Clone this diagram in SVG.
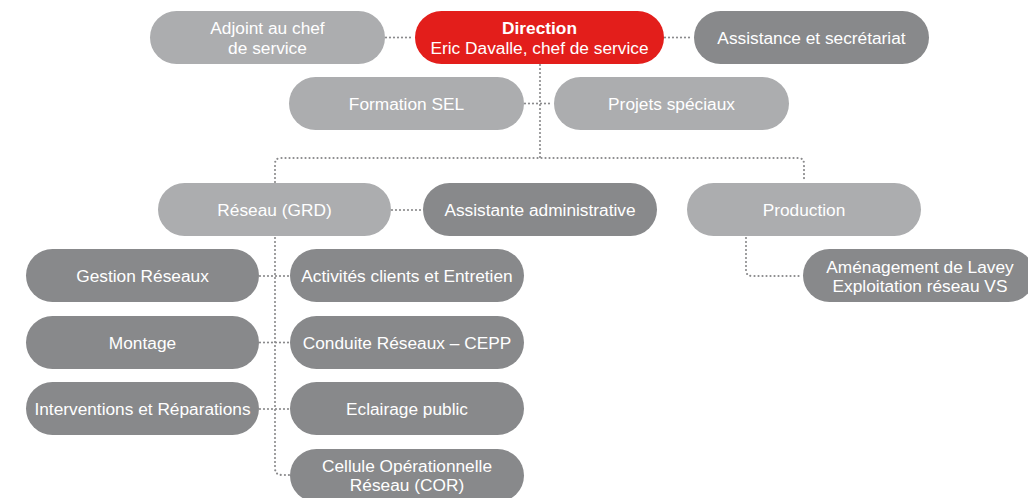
<svg xmlns="http://www.w3.org/2000/svg" width="1028" height="498" viewBox="0 0 1028 498">
<style>
.light{fill:#acadaf}
.dark{fill:#88898b}
.red{fill:#e31e1b}
text{font-family:"Liberation Sans",Arial,sans-serif;font-size:17.3px;fill:#ffffff;text-anchor:middle}
.b{font-weight:bold}
.conn{fill:none;stroke:#8a8a8c;stroke-width:2.2;stroke-linecap:round;stroke-dasharray:0 4}
</style>
<rect width="1028" height="498" fill="#ffffff"/>
<g id="connectors">
<path class="conn" d="M386,37.5 H414"/>
<path class="conn" d="M665,37.5 H693"/>
<path class="conn" d="M525,103.5 H553"/>
<path class="conn" d="M540,65 V158"/>
<path class="conn" d="M275,182 V164 Q275,158 281,158 H798 Q804,158 804,164 V182"/>
<path class="conn" d="M392,210 H422"/>
<path class="conn" d="M275,238 V468 Q275,475 282,475 H289"/>
<path class="conn" d="M260,276 H289"/>
<path class="conn" d="M260,342.5 H289"/>
<path class="conn" d="M260,409 H289"/>
<path class="conn" d="M746,238 V270 Q746,276 752,276 H802"/>
</g>
<g id="adjoint"><rect class="light" x="150" y="11" width="235" height="53" rx="26.5"/><text x="267.5" y="34">Adjoint au chef</text><text x="267.5" y="54">de service</text></g>
<g id="direction"><rect class="red" x="415" y="11" width="249" height="53" rx="26.5"/><text class="b" x="539.5" y="34">Direction</text><text x="539.5" y="54">Eric Davalle, chef de service</text></g>
<g id="assistance"><rect class="dark" x="694" y="11" width="235" height="53" rx="26.5"/><text x="811.5" y="44">Assistance et secrétariat</text></g>
<g id="formation"><rect class="light" x="289" y="77" width="235" height="53" rx="26.5"/><text x="406.5" y="110">Formation SEL</text></g>
<g id="projets"><rect class="light" x="554" y="77" width="235" height="53" rx="26.5"/><text x="671.5" y="110">Projets spéciaux</text></g>
<g id="reseau"><rect class="light" x="158" y="183" width="233" height="53" rx="26.5"/><text x="274.5" y="216">Réseau (GRD)</text></g>
<g id="assistante"><rect class="dark" x="423" y="183" width="234" height="53" rx="26.5"/><text x="540" y="216">Assistante administrative</text></g>
<g id="production"><rect class="light" x="687" y="183" width="234" height="53" rx="26.5"/><text x="804" y="216">Production</text></g>
<g id="gestion"><rect class="dark" x="26" y="249" width="233" height="53" rx="26.5"/><text x="142.5" y="282">Gestion Réseaux</text></g>
<g id="activites"><rect class="dark" x="290" y="249" width="234" height="53" rx="26.5"/><text x="407" y="282">Activités clients et Entretien</text></g>
<g id="amenagement"><rect class="dark" x="803" y="249" width="232" height="53" rx="26.5"/><text x="920" y="273">Aménagement de Lavey</text><text x="920" y="292">Exploitation réseau VS</text></g>
<g id="montage"><rect class="dark" x="26" y="316" width="233" height="53" rx="26.5"/><text x="142.5" y="349">Montage</text></g>
<g id="conduite"><rect class="dark" x="290" y="316" width="234" height="53" rx="26.5"/><text x="407" y="349">Conduite Réseaux – CEPP</text></g>
<g id="interventions"><rect class="dark" x="26" y="382" width="233" height="53" rx="26.5"/><text x="142.5" y="415">Interventions et Réparations</text></g>
<g id="eclairage"><rect class="dark" x="290" y="382" width="234" height="53" rx="26.5"/><text x="407" y="415">Eclairage public</text></g>
<g id="cellule"><rect class="dark" x="290" y="449" width="234" height="53" rx="26.5"/><text x="407" y="472">Cellule Opérationnelle</text><text x="407" y="491">Réseau (COR)</text></g>
</svg>
